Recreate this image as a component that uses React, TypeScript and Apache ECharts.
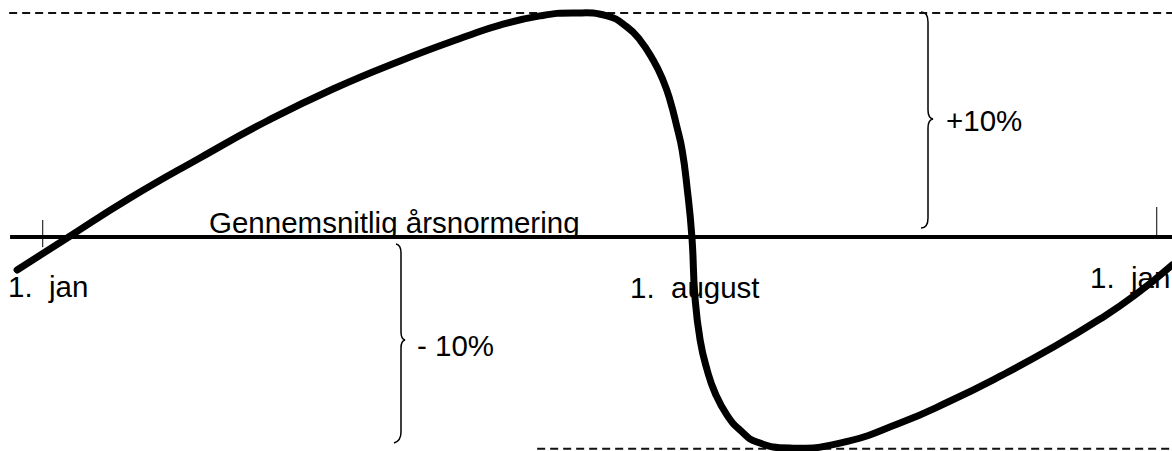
import React, { useEffect, useRef } from "react";
import * as echarts from "echarts";

// x in days since 1 January, y in percent deviation from the yearly average
const curveDays = [
  -8.4, 8.0, 28.6, 51.5, 73.5, 95.1, 117.1, 139.0, 149.8, 162.9, 173.7, 184.9,
  191.4, 195.7, 200.0, 203.2, 205.5, 207.8, 209.5, 211.1, 212.7, 213.7, 215.4,
  217.7, 220.3, 224.2, 228.5, 234.0, 244.8, 261.2, 280.9, 297.3, 313.7,
  330.0, 346.4, 357.9, 370.0,
];
const curveValues = [
  -1.47, -0.04, 1.74, 3.53, 5.18, 6.61, 7.86, 8.97, 9.46, 9.87, 10.0, 9.87,
  9.38, 8.79, 7.9, 7.01, 6.12, 4.91, 3.88, 2.23, 0, -2.68, -4.6,
  -5.94, -6.96, -7.95, -8.62, -9.15, -9.42, -9.2, -8.3, -7.32, -6.21,
  -5.0, -3.66, -2.59, -1.25,
];
const tickDays = [0, 365];
const tickLabels = ["1.  jan", "1.  august", "1.  jan"];
const bandLabels = ["+10%", "- 10%"];
const baselineLabel = "Gennemsnitlig årsnormering";
const upperLimit = 10;
const lowerLimit = -9.45;

const FONT = '"Liberation Sans", Arial, sans-serif';

echarts.graphic.registerShape(
  "braceUpper",
  echarts.graphic.extendPath(
    "M921 12 Q928 12 928 22 L928 110 Q928 118 933 119 Q928 120 928 128 L928 218 Q928 228 921 228",
    {}
  )
);
echarts.graphic.registerShape(
  "braceLower",
  echarts.graphic.extendPath(
    "M396 244 Q401 245 401 253 L401 332 Q401 339 405 340 Q401 341 401 348 L401 432 Q401 441 394 443",
    {}
  )
);

export default function App() {
  const ref = useRef<HTMLDivElement>(null);
  useEffect(() => {
    if (!ref.current) return;
    const chart = echarts.init(ref.current, undefined, { renderer: "svg" });
    const curve = curveDays.map((d, i) => [d, curveValues[i]]);
    const txt = (text: string, x: number, y: number) => ({
      type: "text",
      x,
      y,
      style: {
        text,
        fill: "#000",
        fontSize: 29.5,
        fontFamily: FONT,
        align: "left",
        verticalAlign: "middle",
      },
    });
    chart.setOption({
      animation: false,
      grid: { left: 0, right: 0, top: 0, bottom: 0 },
      xAxis: { type: "value", min: -14, max: 370, show: false },
      yAxis: { type: "value", min: -9.55, max: 10.58, show: false },
      series: [
        {
          type: "line",
          data: [[-11, upperLimit], [370, upperLimit]],
          symbol: "none",
          silent: true,
          lineStyle: { color: "#111", width: 1.8, type: [8, 5] },
        },
        {
          type: "line",
          data: [[162, lowerLimit], [370, lowerLimit]],
          symbol: "none",
          silent: true,
          lineStyle: { color: "#111", width: 1.8, type: [8, 5] },
        },
        {
          type: "line",
          data: [[-10.7, 0], [370, 0]],
          symbol: "none",
          silent: true,
          lineStyle: { color: "#000", width: 4 },
        },
        {
          type: "line",
          data: [[tickDays[0], 0.76], [tickDays[0], -0.45]],
          symbol: "none",
          silent: true,
          lineStyle: { color: "#000", width: 1 },
        },
        {
          type: "line",
          data: [[tickDays[1], 1.34], [tickDays[1], 0]],
          symbol: "none",
          silent: true,
          lineStyle: { color: "#000", width: 1 },
        },
        {
          type: "custom",
          coordinateSystem: "cartesian2d",
          data: curve,
          encode: { x: 0, y: 1 },
          clip: false,
          silent: true,
          z: 5,
          renderItem: (params: any, api: any) => {
            if (params.dataIndex !== 0) return null;
            const pts = curve.map((p) => api.coord(p));
            return {
              type: "polyline",
              shape: { points: pts, smooth: 0.5 },
              style: {
                stroke: "#000",
                lineWidth: 7,
                fill: null,
                lineCap: "round",
                lineJoin: "round",
              },
            };
          },
        },
      ],
      graphic: [
        txt(baselineLabel, 209, 222),
        txt(tickLabels[0], 8, 286),
        txt(tickLabels[1], 630, 287),
        txt(tickLabels[2], 1090, 277),
        txt(bandLabels[0], 946, 120),
        txt(bandLabels[1], 417, 345),
        {
          type: "braceUpper",
          x: 0,
          y: 0,
          style: { stroke: "#000", lineWidth: 1.5, fill: null },
        },
        {
          type: "braceLower",
          x: 0,
          y: 0,
          style: { stroke: "#000", lineWidth: 1.5, fill: null },
        },
      ],
    });
    return () => chart.dispose();
  }, []);
  return (
    <div
      ref={ref}
      style={{ position: "absolute", left: 0, top: 0, width: 1172, height: 451, background: "#fff" }}
    />
  );
}
